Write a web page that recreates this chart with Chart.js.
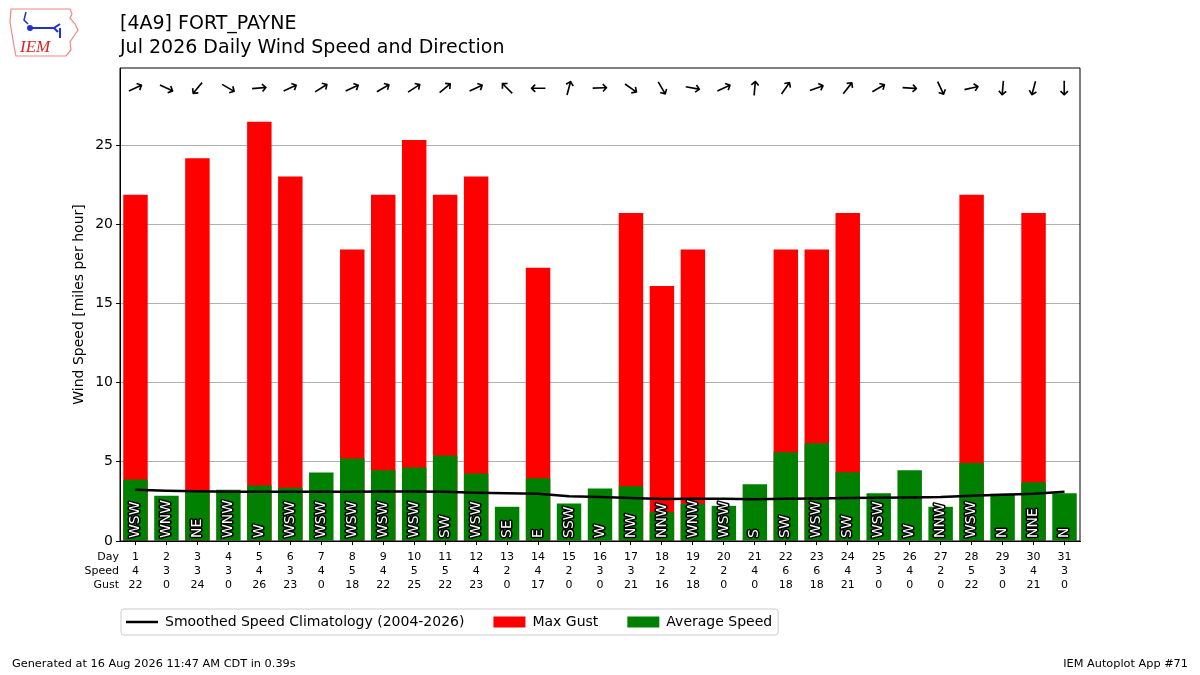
<!DOCTYPE html>
<html>
<head>
<meta charset="utf-8">
<script src="https://cdn.jsdelivr.net/npm/chart.js@4.4.0/dist/chart.umd.min.js"></script>
<style>
  html, body { margin: 0; padding: 0; background: #fff; }
  #wrap { position: relative; width: 1200px; height: 675px; font-family: "DejaVu Sans", sans-serif; }
  #chart { position: absolute; left: 0; top: 0; }
  .title { position: absolute; left: 120px; font-size: 19px; color: #000; white-space: nowrap; }
  .foot { position: absolute; top: 657px; font-size: 11.3px; color: #000; white-space: nowrap; }
  #logo { position: absolute; left: 8px; top: 6px; }
</style>
</head>
<body>
<div id="wrap">
  <canvas id="chart" width="1200" height="675"></canvas>
  <svg id="logo" width="72" height="54" viewBox="0 0 72 54">
    <path d="M3 3 L62 3 L64 8 L62 12 L67 18 L70 24 L66 30 L62 36 L63 44 L58 50 L8 50 L6 40 L4 28 L2 16 Z" fill="none" stroke="#e88" stroke-width="1.2"/>
    <path d="M20 22 L46 22 L52 18 M46 22 L50 26 M52 22 L52 32" fill="none" stroke="#2233cc" stroke-width="2"/>
    <circle cx="22" cy="22" r="3" fill="#2233cc"/>
    <path d="M18 6 L16 14 L20 18" fill="none" stroke="#2233cc" stroke-width="1.5"/>
    <text x="12" y="46" font-family="Liberation Serif, serif" font-style="italic" font-size="17" fill="#dd2222">IEM</text>
  </svg>
  <div class="title" style="top:11px">[4A9] FORT_PAYNE</div>
  <div class="title" style="top:35px">Jul 2026 Daily Wind Speed and Direction</div>
  <div class="foot" style="left:12px">Generated at 16 Aug 2026 11:47 AM CDT in 0.39s</div>
  <div class="foot" style="right:12px">IEM Autoplot App #71</div>
</div>
<script>
// daily values (mph)
const days = ['1','2','3','4','5','6','7','8','9','10','11','12','13','14','15','16',
  '17','18','19','20','21','22','23','24','25','26','27','28','29','30','31'];
const avgSpeed = [3.88, 2.86, 3.18, 3.24, 3.50, 3.37, 4.32, 5.21, 4.47, 4.64, 5.40, 4.26, 2.16, 3.96, 2.37, 3.31,
  3.45, 1.82, 2.35, 2.22, 3.58, 5.61, 6.17, 4.34, 3.01, 4.47, 2.16, 4.92, 2.99, 3.71, 3.01];
const maxGust = [21.86, 0, 24.17, 0, 26.47, 23.02, 0, 18.41, 21.86, 25.32, 21.86, 23.02, 0, 17.26, 0, 0,
  20.71, 16.11, 18.41, 0, 0, 18.41, 18.41, 20.71, 0, 0, 0, 21.86, 0, 20.71, 0];
const climo = [3.24, 3.18, 3.14, 3.11, 3.11, 3.11, 3.11, 3.11, 3.12, 3.12, 3.11, 3.05, 3.01, 2.99, 2.83, 2.78,
  2.71, 2.65, 2.67, 2.67, 2.63, 2.67, 2.69, 2.71, 2.73, 2.75, 2.78, 2.86, 2.92, 2.99, 3.11];
const dirNames = ['WSW','WNW','NE','WNW','W','WSW','WSW','WSW','WSW','WSW','SW','WSW','SE','E','SSW','W',
  'NW','NNW','WNW','WSW','S','SW','WSW','SW','WSW','W','NNW','WSW','N','NNE','N'];
const dirDeg = [245, 295, 40, 300, 265, 245, 238, 245, 240, 237, 230, 245, 135, 90, 195, 268,
  305, 330, 280, 245, 185, 215, 250, 218, 240, 274, 335, 257, 5, 15, 0];
const rowNames = ['Day', 'Speed', 'Gust'];

const xLabels = days.map((d, i) => [d, String(Math.round(avgSpeed[i])), String(Math.round(maxGust[i]))]);

// arrows, direction names, row titles and the frame
const extras = {
  id: 'extras',
  afterLayout(chart) {
    // nudge the legend left and up so it sits where the original has it
    const lg = chart.legend;
    lg.left -= 23; lg.right -= 23;
    lg.top -= 7; lg.bottom -= 7;
  },
  afterDraw(chart) {
    const ctx = chart.ctx;
    const xs = chart.scales.x, ys = chart.scales.y;
    const area = chart.chartArea;
    ctx.save();
    // wind direction arrows
    ctx.fillStyle = '#000';
    ctx.font = '20px "DejaVu Sans"';
    ctx.textAlign = 'center';
    ctx.textBaseline = 'middle';
    days.forEach((d, i) => {
      const x = xs.getPixelForValue(i);
      const y = ys.getPixelForValue(28.6);
      ctx.save();
      ctx.translate(x, y);
      ctx.rotate((dirDeg[i] + 90) * Math.PI / 180);
      ctx.fillText('\u2192', 0, 1);
      ctx.restore();
    });
    // direction names inside the bars
    ctx.font = '14px "DejaVu Sans"';
    ctx.textAlign = 'left';
    ctx.lineJoin = 'round';
    days.forEach((d, i) => {
      const x = xs.getPixelForValue(i);
      const y = ys.getPixelForValue(0) - 3;
      ctx.save();
      ctx.translate(x, y);
      ctx.rotate(-Math.PI / 2);
      ctx.lineWidth = 3;
      ctx.strokeStyle = '#000';
      ctx.strokeText(dirNames[i], 0, 0);
      ctx.fillStyle = '#fff';
      ctx.fillText(dirNames[i], 0, 0);
      ctx.restore();
    });
    // row titles left of the tick labels
    ctx.font = '11px "DejaVu Sans"';
    ctx.fillStyle = '#000';
    ctx.textAlign = 'right';
    ctx.textBaseline = 'middle';
    rowNames.forEach((t, k) => ctx.fillText(t, area.left - 1, xs.top + 16 + k * 14));
    // axes frame
    ctx.strokeStyle = '#000';
    ctx.lineWidth = 1;
    ctx.strokeRect(area.left, area.top, area.right - area.left, area.bottom - area.top);
    // legend frame
    const boxes = chart.legend.legendHitBoxes;
    if (boxes && boxes.length) {
      const l = boxes[0].left - 5, t = boxes[0].top - 6;
      const last = boxes[boxes.length - 1];
      const r = last.left + last.width + 6, b = boxes[0].top + boxes[0].height + 6;
      ctx.strokeStyle = '#cccccc';
      ctx.beginPath();
      ctx.roundRect(l, t, r - l, b - t, 3);
      ctx.stroke();
    }
    ctx.restore();
  }
};

new Chart(document.getElementById('chart'), {
  type: 'bar',
  data: {
    labels: xLabels,
    datasets: [
      {
        type: 'line',
        label: 'Smoothed Speed Climatology (2004-2026)',
        data: climo,
        borderColor: '#000',
        backgroundColor: '#000',
        borderWidth: 2.5,
        pointRadius: 0,
        pointStyle: 'line',
        order: 0
      },
      {
        label: 'Max Gust',
        data: maxGust,
        backgroundColor: '#ff0000',
        pointStyle: 'rect',
        grouped: false,
        order: 2
      },
      {
        label: 'Average Speed',
        data: avgSpeed,
        backgroundColor: '#008000',
        pointStyle: 'rect',
        grouped: false,
        order: 1
      }
    ]
  },
  options: {
    responsive: false,
    animation: false,
    layout: { padding: { left: 67, right: 120, top: 68, bottom: 29 } },
    datasets: { bar: { barPercentage: 0.79, categoryPercentage: 1.0 } },
    plugins: {
      tooltip: { enabled: false },
      legend: {
        position: 'bottom',
        align: 'start',
        fullSize: false,
        labels: {
          usePointStyle: true,
          pointStyleWidth: 32,
          boxHeight: 11,
          padding: 29,
          color: '#000',
          font: { family: 'DejaVu Sans', size: 14 },
          sort: (a, b) => a.datasetIndex - b.datasetIndex
        }
      }
    },
    scales: {
      x: {
        afterFit: s => { s.height = 52; },
        grid: { display: true, drawOnChartArea: false, offset: false, tickLength: 4, tickColor: '#000' },
        border: { color: '#000' },
        ticks: {
          color: '#000',
          padding: 5,
          maxRotation: 0,
          autoSkip: false,
          font: { family: 'DejaVu Sans', size: 11, lineHeight: '14px' }
        }
      },
      y: {
        min: 0,
        max: 29.87,
        afterFit: s => { s.width = 53; },
        afterBuildTicks: s => { s.ticks = s.ticks.filter(t => t.value % 5 === 0); },
        grid: { color: '#b0b0b0', tickLength: 4, tickColor: '#000' },
        border: { color: '#000' },
        title: {
          display: true,
          text: 'Wind Speed [miles per hour]',
          color: '#000',
          font: { family: 'DejaVu Sans', size: 14 }
        },
        ticks: {
          stepSize: 5,
          color: '#000',
          padding: 3,
          font: { family: 'DejaVu Sans', size: 14 }
        }
      }
    }
  },
  plugins: [extras]
});
</script>
</body>
</html>
